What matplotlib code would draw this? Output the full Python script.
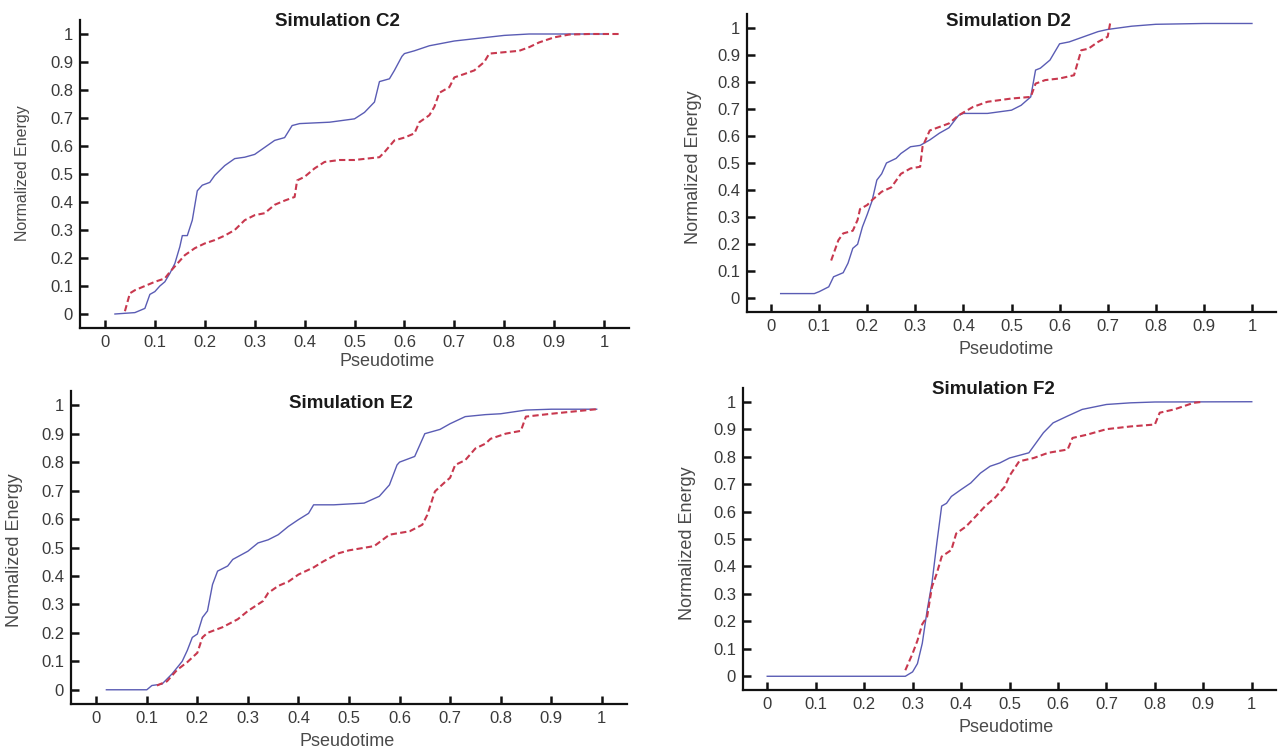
import matplotlib
matplotlib.use("Agg")
import matplotlib.pyplot as plt

plt.rcParams['font.family'] = ['Liberation Sans', 'DejaVu Sans']

W, H = 1278, 753

# ---- Simulation C2 ----
c2_blue_t = [0.02, 0.06, 0.08, 0.09, 0.10, 0.11, 0.12, 0.13, 0.14, 0.15, 0.155, 0.165, 0.175, 0.185,
             0.195, 0.21, 0.22, 0.24, 0.26, 0.28, 0.30, 0.32, 0.34, 0.36, 0.375, 0.39, 0.45, 0.50,
             0.52, 0.54, 0.55, 0.57, 0.58, 0.595, 0.60, 0.62, 0.65, 0.70, 0.75, 0.80, 0.85, 0.90, 1.0]
c2_blue_e = [0.0, 0.005, 0.02, 0.07, 0.08, 0.10, 0.115, 0.145, 0.18, 0.24, 0.28, 0.28, 0.335, 0.44,
             0.46, 0.47, 0.495, 0.53, 0.555, 0.56, 0.57, 0.595, 0.62, 0.63, 0.673, 0.68, 0.685, 0.697,
             0.72, 0.757, 0.83, 0.84, 0.87, 0.92, 0.93, 0.94, 0.958, 0.975, 0.985, 0.995, 1.0, 1.0, 1.0]
c2_red_t = [0.04, 0.05, 0.06, 0.08, 0.10, 0.12, 0.13, 0.14, 0.16, 0.18, 0.20, 0.22, 0.24, 0.26,
            0.28, 0.30, 0.32, 0.34, 0.36, 0.38, 0.385, 0.40, 0.42, 0.44, 0.47, 0.50, 0.55, 0.56,
            0.58, 0.60, 0.62, 0.63, 0.65, 0.66, 0.67, 0.69, 0.70, 0.72, 0.74, 0.76, 0.77, 0.80,
            0.83, 0.85, 0.87, 0.90, 0.93, 0.97, 1.03]
c2_red_e = [0.01, 0.074, 0.085, 0.10, 0.115, 0.127, 0.15, 0.17, 0.21, 0.235, 0.252, 0.264, 0.28, 0.30,
            0.335, 0.353, 0.36, 0.39, 0.405, 0.418, 0.477, 0.49, 0.52, 0.543, 0.55, 0.55, 0.56, 0.578,
            0.62, 0.63, 0.645, 0.685, 0.71, 0.74, 0.79, 0.81, 0.845, 0.857, 0.87, 0.90, 0.93, 0.935,
            0.94, 0.953, 0.97, 0.988, 0.998, 1.0, 1.0]

# ---- Simulation D2 ----
d2_blue_t = [0.02, 0.09, 0.10, 0.12, 0.13, 0.15, 0.16, 0.17, 0.18, 0.19, 0.20, 0.21, 0.22, 0.23,
             0.24, 0.26, 0.27, 0.29, 0.31, 0.33, 0.35, 0.37, 0.39, 0.40, 0.45, 0.50, 0.52, 0.54,
             0.55, 0.56, 0.58, 0.60, 0.62, 0.65, 0.68, 0.70, 0.75, 0.80, 0.90, 1.0]
d2_blue_e = [0.018, 0.018, 0.025, 0.043, 0.08, 0.095, 0.13, 0.185, 0.20, 0.264, 0.31, 0.36, 0.437, 0.46,
             0.50, 0.517, 0.535, 0.56, 0.565, 0.585, 0.61, 0.63, 0.676, 0.683, 0.683, 0.695, 0.713, 0.744,
             0.843, 0.85, 0.88, 0.94, 0.947, 0.966, 0.985, 0.993, 1.005, 1.012, 1.015, 1.015]
d2_red_t = [0.125, 0.14, 0.15, 0.17, 0.18, 0.185, 0.20, 0.21, 0.23, 0.25, 0.27, 0.29, 0.31, 0.315,
            0.33, 0.35, 0.37, 0.39, 0.42, 0.45, 0.50, 0.54, 0.55, 0.57, 0.60, 0.63, 0.645, 0.66,
            0.68, 0.70, 0.705]
d2_red_e = [0.14, 0.215, 0.24, 0.25, 0.29, 0.33, 0.345, 0.363, 0.394, 0.41, 0.46, 0.48, 0.486, 0.56,
            0.62, 0.633, 0.646, 0.676, 0.707, 0.726, 0.738, 0.744, 0.793, 0.806, 0.812, 0.824, 0.916, 0.922,
            0.947, 0.966, 1.015]

# ---- Simulation E2 ----
e2_blue_t = [0.02, 0.10, 0.11, 0.13, 0.15, 0.17, 0.18, 0.19, 0.20, 0.21, 0.22, 0.23, 0.24, 0.26,
             0.27, 0.30, 0.32, 0.34, 0.36, 0.38, 0.40, 0.42, 0.43, 0.47, 0.53, 0.56, 0.58, 0.595,
             0.60, 0.63, 0.65, 0.68, 0.70, 0.73, 0.77, 0.80, 0.85, 0.90, 0.99]
e2_blue_e = [0.0, 0.0, 0.015, 0.02, 0.056, 0.10, 0.138, 0.184, 0.196, 0.254, 0.277, 0.37, 0.417, 0.435,
             0.458, 0.487, 0.516, 0.527, 0.545, 0.574, 0.598, 0.62, 0.65, 0.65, 0.656, 0.68, 0.72, 0.79,
             0.80, 0.82, 0.90, 0.915, 0.935, 0.96, 0.967, 0.97, 0.983, 0.986, 0.986]
e2_red_t = [0.12, 0.14, 0.16, 0.18, 0.20, 0.21, 0.22, 0.25, 0.28, 0.30, 0.33, 0.34, 0.36, 0.38,
            0.40, 0.43, 0.45, 0.48, 0.50, 0.55, 0.58, 0.62, 0.645, 0.655, 0.67, 0.69, 0.70, 0.71,
            0.73, 0.75, 0.77, 0.78, 0.81, 0.84, 0.85, 0.90, 0.95, 0.99]
e2_red_e = [0.015, 0.03, 0.07, 0.097, 0.13, 0.184, 0.20, 0.22, 0.248, 0.277, 0.312, 0.34, 0.365, 0.38,
            0.405, 0.43, 0.452, 0.48, 0.49, 0.505, 0.545, 0.557, 0.58, 0.615, 0.697, 0.73, 0.745, 0.79,
            0.807, 0.848, 0.865, 0.882, 0.90, 0.91, 0.96, 0.97, 0.979, 0.986]

# ---- Simulation F2 ----
f2_blue_t = [0.0, 0.285, 0.30, 0.31, 0.32, 0.33, 0.34, 0.35, 0.36, 0.37, 0.38, 0.40, 0.42, 0.44,
             0.46, 0.48, 0.50, 0.54, 0.57, 0.59, 0.62, 0.65, 0.70, 0.75, 0.80, 1.0]
f2_blue_e = [0.0, 0.0, 0.016, 0.046, 0.12, 0.24, 0.34, 0.485, 0.62, 0.63, 0.655, 0.68, 0.704, 0.74,
             0.765, 0.777, 0.795, 0.814, 0.887, 0.923, 0.948, 0.972, 0.99, 0.996, 0.999, 1.0]
f2_red_t = [0.285, 0.30, 0.31, 0.32, 0.33, 0.34, 0.35, 0.36, 0.38, 0.39, 0.41, 0.43, 0.45, 0.47,
            0.49, 0.50, 0.52, 0.55, 0.58, 0.62, 0.63, 0.66, 0.70, 0.75, 0.80, 0.81, 0.84, 0.88, 0.90]
f2_red_e = [0.022, 0.083, 0.13, 0.19, 0.217, 0.326, 0.375, 0.436, 0.46, 0.52, 0.545, 0.582, 0.62, 0.65,
            0.69, 0.73, 0.783, 0.795, 0.814, 0.826, 0.868, 0.88, 0.90, 0.91, 0.917, 0.96, 0.972, 0.996, 1.0]

ticks = [0, 0.1, 0.2, 0.3, 0.4, 0.5, 0.6, 0.7, 0.8, 0.9, 1]
tick_labels = ['0', '0.1', '0.2', '0.3', '0.4', '0.5', '0.6', '0.7', '0.8', '0.9', '1']

# panel layout in pixels: (left, top, right, bottom), title pos, ylabel pos, xlabel pos, label sizes
panels = [
    ("Simulation C2", (80, 20, 629, 328), (337, 22), (23, 173), (387, 362), 11.5,
     c2_blue_t, c2_blue_e, c2_red_t, c2_red_e),
    ("Simulation D2", (747, 14, 1276, 312), (1008, 22), (693, 167), (1006, 350), 13,
     d2_blue_t, d2_blue_e, d2_red_t, d2_red_e),
    ("Simulation E2", (71, 391, 627, 704), (351, 403), (15, 550), (347, 742), 13,
     e2_blue_t, e2_blue_e, e2_red_t, e2_red_e),
    ("Simulation F2", (743, 388, 1276, 690), (993, 390), (688, 543), (1006, 728), 13,
     f2_blue_t, f2_blue_e, f2_red_t, f2_red_e),
]

fig = plt.figure(figsize=(W / 100, H / 100), dpi=100)

def fx(x):
    return x / W

def fy(y):
    return 1 - y / H

for title, box, tpos, ylpos, xlpos, ysize, bt, be, rt, re_ in panels:
    l, t, r, b = box
    ax = fig.add_axes([fx(l), fy(b), (r - l) / W, (b - t) / H])
    ax.plot(bt, be, color='#5a5cb4', lw=1.0, zorder=2)
    ax.plot(rt, re_, color='#c8384e', lw=1.5, dashes=(3, 1.6), zorder=3)
    ax.set_xlim(-0.05, 1.05)
    ax.set_ylim(-0.05, 1.05)
    ax.set_xticks(ticks)
    ax.set_xticklabels(tick_labels)
    ax.set_yticks(ticks)
    ax.set_yticklabels(tick_labels)
    ax.spines['top'].set_visible(False)
    ax.spines['right'].set_visible(False)
    for s in ('left', 'bottom'):
        ax.spines[s].set_linewidth(1.6)
        ax.spines[s].set_color('#111111')
    ax.tick_params(direction='in', length=6, width=1.8, color='#111111',
                   labelsize=12, labelcolor='#3a3a3a', pad=5)
    ax.patch.set_alpha(0)

    fig.text(fx(tpos[0]), fy(tpos[1]), title, ha='center', va='center',
             fontsize=13.5, fontweight='bold', color='#1a1a1a')
    fig.text(fx(ylpos[0]), fy(ylpos[1]), 'Normalized Energy', ha='center', va='center',
             rotation=90, fontsize=ysize, color='#4a4a4a')
    fig.text(fx(xlpos[0]), fy(xlpos[1]), 'Pseudotime', ha='center', va='center',
             fontsize=13, color='#4a4a4a')

fig.savefig('out.png', dpi=100)
